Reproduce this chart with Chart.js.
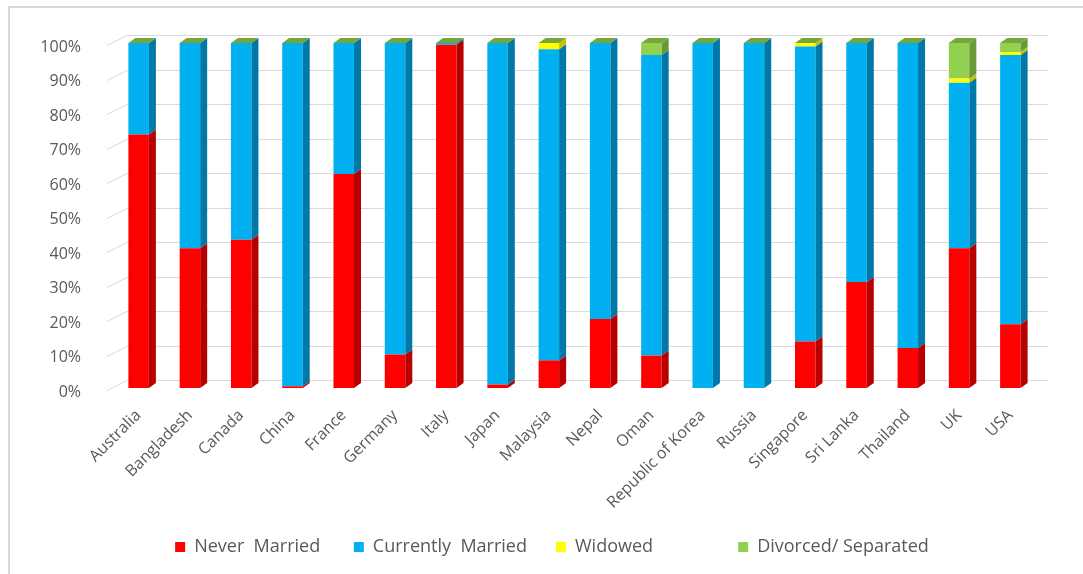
<!DOCTYPE html>
<html>
<head>
<title>Marital status by country</title>
<script src="https://cdn.jsdelivr.net/npm/chart.js"></script>
<style>
  body { margin: 0; background: #fff; }
  #frame { position: absolute; left: 8px; top: 6px; width: 1075px; height: 568px;
           border-left: 2px solid #dadada; border-top: 2px solid #dadada; }
  #wrap { position: absolute; left: 0; top: 0; width: 1083px; height: 574px; }
</style>
</head>
<body>
<div id="frame"></div>
<div id="wrap"><canvas id="chart" width="1083" height="574"></canvas></div>
<script>
// data (percent of each country)
const countries = ['Australia', 'Bangladesh', 'Canada', 'China', 'France', 'Germany', 'Italy', 'Japan',
  'Malaysia', 'Nepal', 'Oman', 'Republic of Korea', 'Russia', 'Singapore', 'Sri Lanka', 'Thailand', 'UK', 'USA'];
const neverMarried     = [73.5, 40.5, 43, 0.5, 62, 9.7, 99.5, 1, 8, 20, 9.4, 0, 0, 13.5, 30.7, 11.6, 40.5, 18.5];
const currentlyMarried = [26.5, 59.5, 57, 99.5, 38, 90.3, 0.5, 99, 90.2, 80, 87.1, 100, 100, 85.5, 69.3, 88.4, 48, 78];
const widowed          = [0, 0, 0, 0, 0, 0, 0, 0, 1.8, 0, 0, 0, 0, 1, 0, 0, 1.2, 0.9];
const divorced         = [0, 0, 0, 0, 0, 0, 0, 0, 0, 0, 3.5, 0, 0, 0, 0, 0, 10.3, 2.6];
const seriesNames = ['Never  Married', 'Currently  Married', 'Widowed', 'Divorced/ Separated'];
const yTicks = [0, 10, 20, 30, 40, 50, 60, 70, 80, 90, 100];

const fontFamily = "'Open Sans', 'Noto Sans', sans-serif";
const textGray = '#595959';
const faceColors = ['#ff0000', '#00b0f0', '#ffff00', '#92d050'];
const sideColors = ['#b80000', '#0079a8', '#c2c200', '#6a9a38'];
const topColor = '#74a63a';
const legendPad = [' ', '', '            ', ''];
const legendCenter = 552;

// fake 3D look: back-wall gridlines, side and top faces of the bars
const bars3d = {
  id: 'bars3d',
  afterLayout(chart) {
    // push the legend over to where the original has it
    const lg = chart.legend;
    const shift = legendCenter - (lg.left + lg.right) / 2;
    lg.left += shift;
    lg.right += shift;
  },
  beforeDatasetsDraw(chart) {
    const ctx = chart.ctx, y = chart.scales.y, a = chart.chartArea;
    ctx.save();
    ctx.strokeStyle = '#d9d9d9';
    ctx.lineWidth = 1;
    yTicks.forEach(v => {
      const py = Math.round(y.getPixelForValue(v)) + 0.5;
      ctx.beginPath();
      ctx.moveTo(a.left - 6, py + 2);
      ctx.lineTo(a.left + 14, py - 8);
      ctx.lineTo(a.right + 12, py - 8);
      ctx.stroke();
    });
    ctx.restore();
  },
  afterDatasetsDraw(chart) {
    const ctx = chart.ctx, dx = 7, dy = 5;
    ctx.save();
    for (let i = 0; i < chart.data.labels.length; i++) {
      let top = Infinity, left = 0, right = 0;
      chart.data.datasets.forEach((ds, d) => {
        const bar = chart.getDatasetMeta(d).data[i];
        const r = bar.x + bar.width / 2;
        left = bar.x - bar.width / 2;
        right = r;
        if (bar.base - bar.y > 0.2) {
          ctx.fillStyle = sideColors[d];
          ctx.beginPath();
          ctx.moveTo(r, bar.y);
          ctx.lineTo(r + dx, bar.y - dy);
          ctx.lineTo(r + dx, bar.base - dy);
          ctx.lineTo(r, bar.base);
          ctx.closePath();
          ctx.fill();
        }
        top = Math.min(top, bar.y);
      });
      ctx.fillStyle = topColor;
      ctx.beginPath();
      ctx.moveTo(left, top);
      ctx.lineTo(left + dx, top - dy);
      ctx.lineTo(right + dx, top - dy);
      ctx.lineTo(right, top);
      ctx.closePath();
      ctx.fill();
    }
    ctx.restore();
  }
};

const values = [neverMarried, currentlyMarried, widowed, divorced];

new Chart(document.getElementById('chart'), {
  type: 'bar',
  data: {
    labels: countries,
    datasets: values.map((v, k) => ({
      label: seriesNames[k],
      data: v,
      backgroundColor: faceColors[k],
      borderWidth: 0,
      categoryPercentage: 1,
      barPercentage: 0.4
    }))
  },
  options: {
    responsive: false,
    animation: false,
    layout: { padding: { top: 43, left: 0, right: 47, bottom: 8 } },
    plugins: {
      tooltip: { enabled: false },
      legend: {
        position: 'bottom',
        labels: {
          boxWidth: 10, boxHeight: 10, padding: 29,
          color: textGray,
          font: { size: 18, family: fontFamily },
          generateLabels(chart) {
            const items = Chart.defaults.plugins.legend.labels.generateLabels(chart);
            items.forEach((it, k) => { it.text += legendPad[k]; it.lineWidth = 0; });
            return items;
          }
        }
      }
    },
    scales: {
      x: {
        stacked: true,
        grid: { display: false },
        border: { display: false },
        ticks: {
          autoSkip: false, minRotation: 45, maxRotation: 45, padding: 10,
          color: textGray, font: { size: 16, family: fontFamily }
        },
        afterFit(s) { s.height = 121; }
      },
      y: {
        stacked: true,
        min: 0, max: 100,
        grid: { display: false },
        border: { display: false },
        afterBuildTicks(s) { s.ticks = yTicks.map(v => ({ value: v })); },
        ticks: {
          padding: 24, labelOffset: 4,
          color: textGray, font: { size: 16, family: fontFamily },
          callback: v => v + '%'
        },
        afterFit(s) { s.width = 113; }
      }
    }
  },
  plugins: [bars3d]
});
</script>
</body>
</html>
